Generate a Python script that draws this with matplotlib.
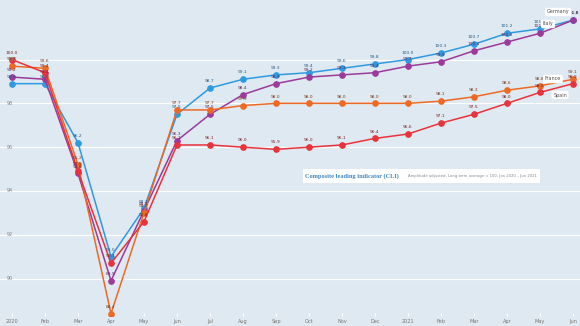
import matplotlib
matplotlib.use("Agg")
import matplotlib.pyplot as plt
import numpy as np

# months Jan 2020 .. Jun 2021
months = ['2020', 'Feb', 'Mar', 'Apr', 'May', 'Jun', 'Jul', 'Aug', 'Sep', 'Oct',
          'Nov', 'Dec', '2021', 'Feb', 'Mar', 'Apr', 'May', 'Jun']

germany = [98.9, 98.9, 96.2, 91.0, 93.2, 97.5, 98.7, 99.1, 99.3, 99.4,
           99.6, 99.8, 100.0, 100.3, 100.7, 101.2, 101.4, 101.8]
italy = [99.2, 99.1, 94.8, 89.9, 93.1, 96.3, 97.5, 98.4, 98.9, 99.2,
         99.3, 99.4, 99.7, 99.9, 100.4, 100.8, 101.2, 101.8]
france = [99.7, 99.6, 95.2, 88.4, 93.0, 97.7, 97.7, 97.9, 98.0, 98.0,
          98.0, 98.0, 98.0, 98.1, 98.3, 98.6, 98.8, 99.1]
spain = [100.0, 99.4, 94.9, 90.7, 92.6, 96.1, 96.1, 96.0, 95.9, 96.0,
         96.1, 96.4, 96.6, 97.1, 97.5, 98.0, 98.5, 98.9]

series = [
    ('Germany', germany, '#2f9ae0', '#2a5d86'),
    ('Italy', italy, '#9b3a9a', '#5e2a5e'),
    ('France', france, '#ec6a24', '#7a3d1e'),
    ('Spain', spain, '#e8333c', '#7c2326'),
]

yticks = [90, 92, 94, 96, 98, 100]

bg = '#dfe9f1'
fig = plt.figure(figsize=(5.8, 3.26), dpi=100)
fig.patch.set_facecolor(bg)
ax = fig.add_axes([0, 10 / 326, 1, 316 / 326])
ax.set_facecolor(bg)

x = np.arange(len(months))

for name, vals, col, tcol in series:
    ax.plot(x, vals, color=col, lw=1.1, marker='o', ms=3.8, zorder=3)
    for xi, v in zip(x, vals):
        ax.annotate(f'{v:.1f}', (xi, v), xytext=(0, 3.5), textcoords='offset points',
                    ha='center', va='bottom', fontsize=3.2, color=tcol, zorder=4)

ax.set_xlim(-12 / 33, 568 / 33)
ax.set_ylim(88.29, 102.72)

# white gridlines, tick values drawn inside the plot at the left
for yv in yticks:
    ax.axhline(yv, color='white', lw=0.9, zorder=1)
    ax.text(7 / 580, yv, str(yv), transform=ax.get_yaxis_transform(), fontsize=3.5,
            color='#888888', ha='left', va='center')

ax.set_yticks([])
ax.set_xticks(x)
ax.set_xticklabels(months, fontsize=3.6, color='#777777')
ax.tick_params(axis='x', direction='in', length=2, color='white', pad=2)
for s in ax.spines.values():
    s.set_visible(False)

# end labels
box = dict(boxstyle='round,pad=0.35', fc='white', ec='none')
ax.text(558 / 580, 1 - 12 / 316, 'Germany', transform=ax.transAxes, fontsize=3.5,
        color='#555555', ha='center', va='center', bbox=box, zorder=5)
ax.text(548 / 580, 1 - 24 / 316, 'Italy', transform=ax.transAxes, fontsize=3.5,
        color='#555555', ha='center', va='center', bbox=box, zorder=5)
ax.text(553 / 580, 1 - 79 / 316, 'France', transform=ax.transAxes, fontsize=3.5,
        color='#555555', ha='center', va='center', bbox=box, zorder=5)
ax.text(560 / 580, 1 - 95 / 316, 'Spain', transform=ax.transAxes, fontsize=3.5,
        color='#555555', ha='center', va='center', bbox=box, zorder=5)

# title box
fig.patches.append(plt.Rectangle((303 / 580, 1 - 183 / 326), 237 / 580, 14 / 326,
                                 transform=fig.transFigure, fc='white', ec='none', zorder=5))
fig.text(305 / 580, 1 - 176 / 326, 'Composite leading indicator (CLI)', fontsize=4.6,
         fontweight='bold', family='Liberation Serif', color='#3f86c0', ha='left',
         va='center', zorder=6)
fig.text(408 / 580, 1 - 176 / 326,
         'Amplitude adjusted, Long term average = 100, Jan 2020 \u2013 Jun 2021',
         fontsize=2.7, color='#888888', ha='left', va='center', zorder=6)

fig.savefig('out.png', dpi=100, facecolor=bg)
